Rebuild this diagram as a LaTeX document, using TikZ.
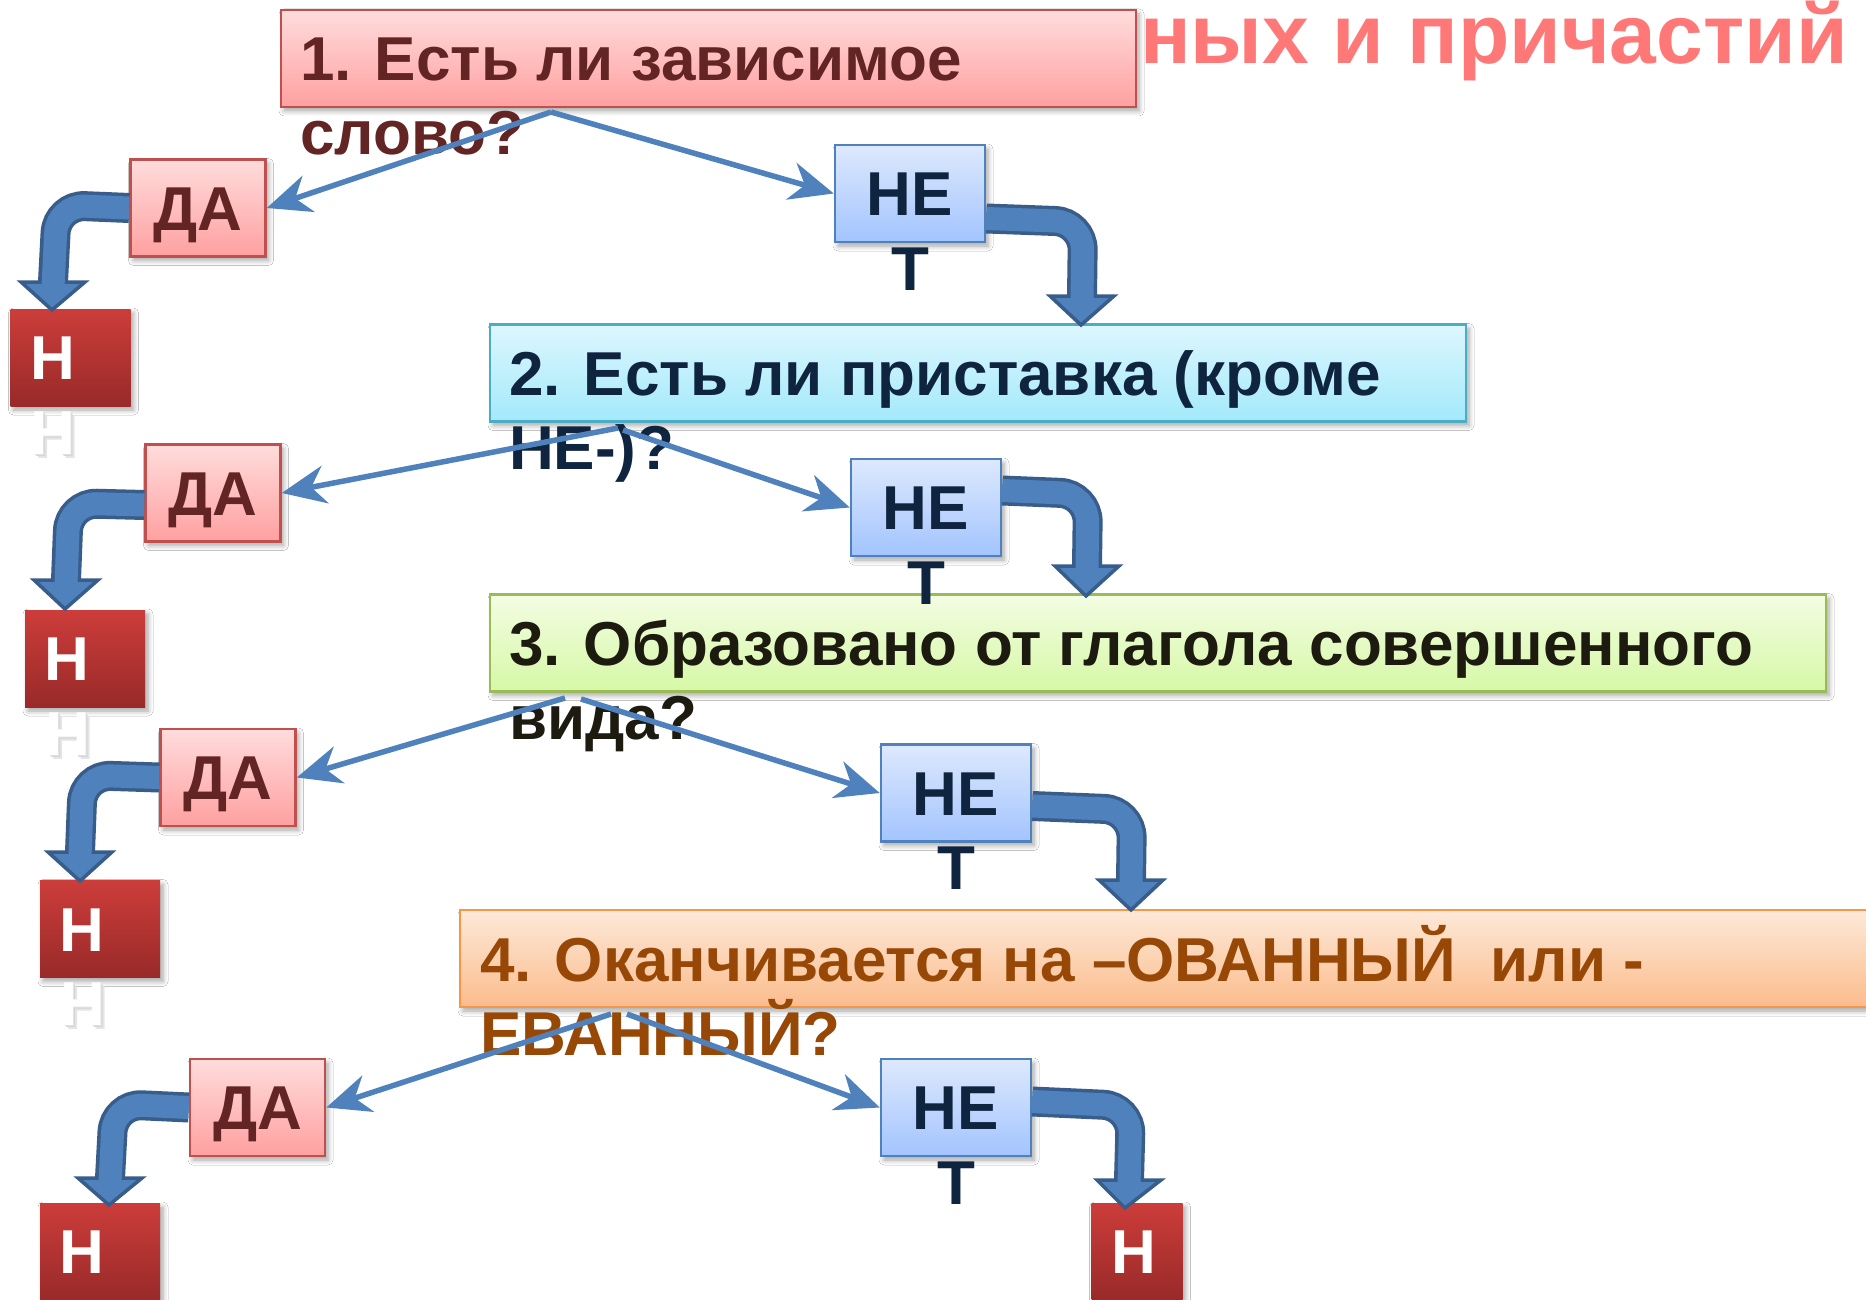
\documentclass[tikz,border=0pt]{standalone}
\usepackage{fontspec}
\setmainfont{Liberation Sans}
\usetikzlibrary{arrows.meta,calc,shadows.blur}
\definecolor{pinkT}{HTML}{FFDCDC}
\definecolor{pinkD}{HTML}{FFA0A0}
\definecolor{pinkB}{HTML}{C0504D}
\definecolor{blueT}{HTML}{DDE9FD}
\definecolor{blueD}{HTML}{A3C4FE}
\definecolor{blueB}{HTML}{4F81BD}
\definecolor{cyanT}{HTML}{DDF7FE}
\definecolor{cyanD}{HTML}{A3E9FB}
\definecolor{cyanB}{HTML}{4BACC6}
\definecolor{greenT}{HTML}{F3FDE3}
\definecolor{greenD}{HTML}{D6F8A6}
\definecolor{greenB}{HTML}{9BBB59}
\definecolor{orangeT}{HTML}{FDE9D9}
\definecolor{orangeD}{HTML}{FBBC8C}
\definecolor{orangeB}{HTML}{F79646}
\definecolor{redT}{HTML}{CC3D3A}
\definecolor{redD}{HTML}{982A29}
\definecolor{navy}{HTML}{0F243E}
\definecolor{dred}{HTML}{632523}
\definecolor{olive}{HTML}{1D1B10}
\definecolor{brownT}{HTML}{974806}
\definecolor{titleC}{HTML}{FF7878}
\definecolor{arrowF}{HTML}{4F81BD}
\definecolor{arrowD}{HTML}{385D8A}
\newcommand\bentarrow[4]{%
  \draw[bshaft] #1 -- #2 -- #3;
  \filldraw[ahead] ($#3+(-32,0)$) -- #4 -- ($#3+(32,0)$) -- cycle;
  \draw[fshaft] #1 -- #2 -- ($#3+(0,5)$);
}
% white letter made visible only by its soft shadow (one node)
\newcommand\ghostglyph{%
  \makebox[0pt][l]{\kern4pt\raisebox{-4pt}{\textcolor{black!10}{Н}}}%
  \makebox[0pt][l]{\kern2.5pt\raisebox{-2.5pt}{\textcolor{black!16}{Н}}}%
  \makebox[0pt][l]{\kern1pt\raisebox{-1pt}{\textcolor{black!12}{Н}}}%
  \textcolor{white}{Н}}
\begin{document}
\begin{tikzpicture}[x=1pt,y=-1pt,
  every node/.style={font=\fontsize{62}{74}\selectfont\bfseries, inner sep=0pt},
  sbox/.style={rectangle, line width=2.5pt, minimum height=97pt,
    blur shadow={shadow xshift=3pt, shadow yshift=-4pt, shadow blur radius=5pt, shadow opacity=35, shadow blur steps=6}},
  pinkbox/.style={sbox, draw=pinkB, top color=pinkT, bottom color=pinkD},
  bluebox/.style={sbox, draw=blueB, top color=blueT, bottom color=blueD, minimum width=150pt, text=navy, text height=44.4pt, text depth=0pt},
  cyanbox/.style={sbox, draw=cyanB, top color=cyanT, bottom color=cyanD},
  greenbox/.style={sbox, draw=greenB, top color=greenT, bottom color=greenD},
  orangebox/.style={sbox, draw=orangeB, top color=orangeT, bottom color=orangeD},
  dabox/.style={pinkbox, minimum width=135pt, text=dred, text height=44.4pt, text depth=0pt},
  nbox/.style={sbox, draw=none, top color=redT, bottom color=redD, text=white, text height=44.4pt, text depth=0pt, inner xsep=19.5pt, align=left},
  qtext/.style={anchor=base west},
  tletter/.style={anchor=base, text=navy},
  ghostn/.style={anchor=base west, text height=44.4pt, text depth=0pt},
  title/.style={anchor=base east, text=titleC, font=\fontsize{84}{90}\selectfont\bfseries},
  thin/.style={line width=5.5pt, draw=arrowF, -{Stealth[length=44pt, width=38pt, inset=14pt]}},
  bshaft/.style={line width=30pt, draw=arrowD, rounded corners=28pt},
  fshaft/.style={line width=23pt, draw=arrowF, rounded corners=28pt},
  ahead/.style={fill=arrowF, draw=arrowD, line width=3.5pt, line join=miter}
]
\useasboundingbox (0,0) rectangle (1866,1300);
\fill[white] (0,0) rectangle (1866,1300);

% title fragment
\node[title] (title) at (1848,64) {ных и причастий};

% question boxes
\node[pinkbox, minimum width=855pt] (q1) at (708.5,58.5) {};
\node[qtext, text=dred] (q1a) at (300,81) {1. Есть ли зависимое};
\node[qtext, text=dred] (q1b) at (300,155) {слово?};

\node[cyanbox, minimum width=976pt] (q2) at (978,373) {};
\node[qtext, text=navy] (q2a) at (509,395.5) {2. Есть ли приставка (кроме};
\node[qtext, text=navy] (q2b) at (509,469.5) {НЕ-)?};

\node[greenbox, minimum width=1336pt] (q3) at (1158,643) {};
\node[qtext, text=olive] (q3a) at (509,665.5) {3. Образовано от глагола совершенного};
\node[qtext, text=olive] (q3b) at (509,739.5) {вида?};

\node[orangebox, minimum width=1420pt] (q4) at (1170,958.5) {};
\node[qtext, text=brownT] (q4a) at (480,981) {4. Оканчивается на –ОВАННЫЙ~ или -};
\node[qtext, text=brownT] (q4b) at (480,1055) {ЕВАННЫЙ?};

% ДА boxes
\node[dabox] (da1) at (198,208) {ДА};
\node[dabox] (da2) at (213,493) {ДА};
\node[dabox] (da3) at (228,777.5) {ДА};
\node[dabox] (da4) at (257.5,1107.5) {ДА};

% НЕТ boxes
\node[bluebox] (ne1) at (910,193.5) {НЕ};
\node[tletter] (t1) at (910,290) {Т};
\node[bluebox] (ne2) at (926,507.5) {НЕ};
\node[tletter] (t2) at (926,604) {Т};
\node[bluebox] (ne3) at (956,793) {НЕ};
\node[tletter] (t3) at (956,889.5) {Т};
\node[bluebox] (ne4) at (956,1107.5) {НЕ};
\node[tletter] (t4) at (956,1204) {Т};

% Н boxes
\node[nbox, minimum width=120pt, text width=81pt] (n1) at (70.5,357.5) {Н};
\node[ghostn] (n1g) at (30,454) {\ghostglyph};
\node[nbox, minimum width=120pt, text width=81pt] (n2) at (85,658.5) {Н};
\node[ghostn] (n2g) at (45,755) {\ghostglyph};
\node[nbox, minimum width=120pt, text width=81pt] (n3) at (100,929) {Н};
\node[ghostn] (n3g) at (60,1025) {\ghostglyph};
\node[nbox, minimum width=120pt, text width=81pt] (n4) at (100,1251.5) {Н};
\node[nbox, minimum width=91pt, text width=52pt] (n5) at (1137,1251.5) {Н};

% thin arrows
\coordinate (s1) at (551,112);
\coordinate (s2l) at (618,428);
\coordinate (s2r) at (623,430);
\coordinate (s3l) at (565,698);
\coordinate (s3r) at (581,699);
\coordinate (s4l) at (611,1014);
\coordinate (s4r) at (627,1014);
\draw[thin] (s1) -- (da1.east);
\draw[thin] (s1) -- (ne1.west);
\draw[thin] (s2l) -- (da2.east);
\draw[thin] (s2r) -- (ne2.west);
\draw[thin] (s3l) -- (da3.east);
\draw[thin] (s3r) -- (ne3.west);
\draw[thin] (s4l) -- (da4.east);
\draw[thin] (s4r) -- (ne4.west);

% bent block arrows
\coordinate (a1c) at (57,205);   \coordinate (a1b) at (53,282);   \coordinate (a1t) at (52,310);
\coordinate (a2c) at (69,503);   \coordinate (a2b) at (66,580);   \coordinate (a2t) at (65,609);
\coordinate (a3c) at (83,775);   \coordinate (a3b) at (80,852);   \coordinate (a3t) at (80,881);
\coordinate (a4c) at (114,1104); \coordinate (a4b) at (110,1178); \coordinate (a4t) at (109,1205);
\coordinate (b1c) at (1083,222); \coordinate (b1b) at (1082,296); \coordinate (b1t) at (1081,325);
\coordinate (b2c) at (1088,494); \coordinate (b2b) at (1087,566); \coordinate (b2t) at (1086,596);
\coordinate (b3c) at (1132,810); \coordinate (b3b) at (1131,880); \coordinate (b3t) at (1131,910);
\coordinate (b4c) at (1131,1106);\coordinate (b4b) at (1129,1180);\coordinate (b4t) at (1125,1208);

\bentarrow{(da1.west)}{(a1c)}{(a1b)}{(a1t)}
\bentarrow{($(da2.west)+(0,12)$)}{(a2c)}{(a2b)}{(a2t)}
\bentarrow{(da3.west)}{(a3c)}{(a3b)}{(a3t)}
\bentarrow{(da4.west)}{(a4c)}{(a4b)}{(a4t)}
\bentarrow{($(ne1.east)+(0,25)$)}{(b1c)}{(b1b)}{(b1t)}
\bentarrow{($(ne2.east)+(0,-17)$)}{(b2c)}{(b2b)}{(b2t)}
\bentarrow{($(ne3.east)+(0,13)$)}{(b3c)}{(b3b)}{(b3t)}
\bentarrow{($(ne4.east)+(0,-6)$)}{(b4c)}{(b4b)}{(b4t)}
\end{tikzpicture}
\end{document}
